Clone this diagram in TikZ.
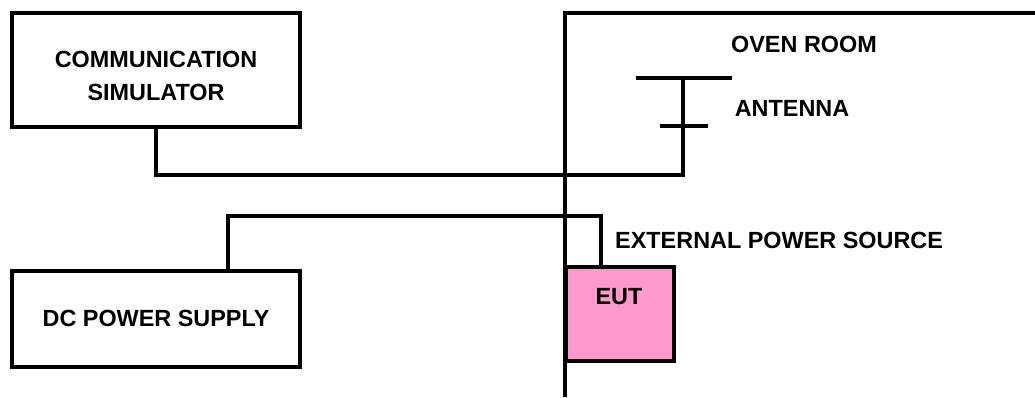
\documentclass[tikz,border=0pt]{standalone}
\usepackage{fontspec}
\setmainfont{Liberation Sans}
\begin{document}
\begin{tikzpicture}[x=1bp,y=1bp,
  every node/.style={font=\bfseries\fontsize{23.5}{30}\selectfont},
  box/.style={draw,line width=3.5bp,inner sep=0pt,align=center},
  wire/.style={line width=3.5bp}]
\useasboundingbox (0,0) rectangle (1035,397);
\definecolor{eutpink}{HTML}{FF99CC}
% boxes
\node[box,minimum width=288bp,minimum height=114bp] (comm) at (156,327) {};
\node[align=center] (commtext) at (156,321) {COMMUNICATION\\[3bp]SIMULATOR};
\node[box,minimum width=288bp,minimum height=96bp] (dc) at (156,78) {};
\node (dctext) at (156,79) {DC POWER SUPPLY};
\node[box,fill=eutpink,minimum width=108bp,minimum height=94bp] (eut) at (620,83) {};
\node (euttext) at (619,100) {EUT};
% wall of oven room
\coordinate (walltop) at (565,384);
\coordinate (wallbot) at (565,0);
\coordinate (wallright) at (1035,384);
\draw[wire] (wallbot) -- (walltop) -- (wallright);
\node (oven) at (804,353) {OVEN ROOM};
% antenna
\coordinate (anttop) at (683,319);
\coordinate (antL) at (636,319);
\coordinate (antR) at (732,319);
\coordinate (barL) at (660,271);
\coordinate (barR) at (708,271);
\coordinate (cornA) at (683,222);
\draw[wire] (antL) -- (antR);
\draw[wire] (barL) -- (barR);
\node (antlabel) at (792,289) {ANTENNA};
% communication cable
\draw[wire] (comm.south) |- (cornA) -- (anttop);
% power cable
\coordinate (dcout) at ([xshift=72bp]dc.north);
\coordinate (pwcorner) at (601,181);
\draw[wire] (dcout) |- (pwcorner) -- (pwcorner |- eut.north);
\node[anchor=west,inner sep=0pt] (ext) at (615,157) {EXTERNAL POWER SOURCE};
\end{tikzpicture}
\end{document}
